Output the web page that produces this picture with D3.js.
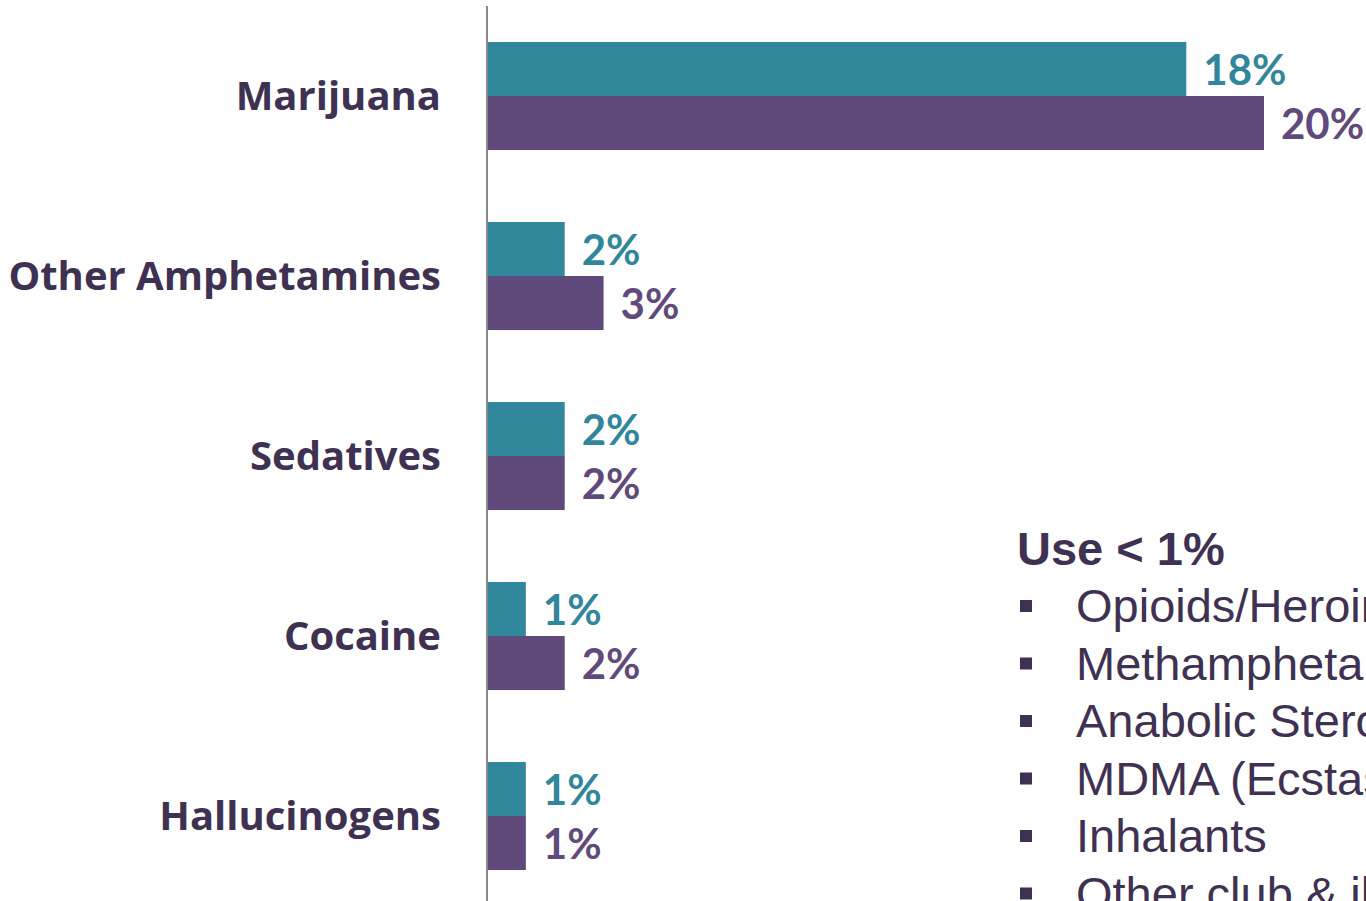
<!DOCTYPE html>
<html>
<head>
<meta charset="utf-8">
<script src="https://cdn.jsdelivr.net/npm/d3@7"></script>
<style>
  body { margin: 0; background: #fff; overflow: hidden; }
  svg { display: block; }
</style>
</head>
<body>
<svg id="chart"></svg>
<script>
const categories = ["Marijuana", "Other Amphetamines", "Sedatives", "Cocaine", "Hallucinogens"];
const seriesNames = ["teal", "purple"];
const tealValues = [18, 2, 2, 1, 1];
const purpleValues = [20, 3, 2, 2, 1];
const lowUseTitle = "Use < 1%";
const lowUseItems = ["Opioids/Heroin", "Methamphetamine", "Anabolic Steroids", "MDMA (Ecstasy)", "Inhalants", "Other club & illicit drugs"];

const width = 1366;
const height = 901;
const colors = { teal: "#31879b", purple: "#604a7b" };
const labelColors = { teal: "#31869c", purple: "#5f4a7b" };

const svg = d3.select("#chart").attr("width", width).attr("height", height);

const x = d3.scaleLinear().domain([0, 20]).range([487, 1264]);
const y = d3.scaleBand().domain(categories).range([6, 906]).paddingInner(0.4).paddingOuter(0.2);
const ySub = d3.scaleBand().domain(seriesNames).range([0, y.bandwidth()]);

const rows = categories.map((c, i) => ({
    name: c,
    values: [
        { key: "teal", value: tealValues[i] },
        { key: "purple", value: purpleValues[i] }
    ]
}));

const group = svg.selectAll(".group")
    .data(rows)
    .enter()
    .append("g")
    .attr("class", "group")
    .attr("transform", d => `translate(0,${y(d.name)})`);

group.selectAll("rect")
    .data(d => d.values)
    .enter()
    .append("rect")
    .attr("x", x(0))
    .attr("y", d => ySub(d.key))
    .attr("width", d => x(d.value) - x(0))
    .attr("height", ySub.bandwidth())
    .attr("fill", d => colors[d.key]);

group.selectAll(".val")
    .data(d => d.values)
    .enter()
    .append("text")
    .attr("class", "val")
    .attr("x", d => x(d.value) + 17)
    .attr("y", d => ySub(d.key) + ySub.bandwidth() / 2)
    .attr("dy", "0.38em")
    .attr("fill", d => labelColors[d.key])
    .style("font-family", "Lato, 'Open Sans', sans-serif")
    .style("font-weight", "bold")
    .style("font-size", "42px")
    .text(d => d.value + "%");

// category labels
group.append("text")
    .attr("x", 441)
    .attr("y", y.bandwidth() / 2)
    .attr("dy", "0.36em")
    .attr("text-anchor", "end")
    .attr("fill", "#3f3151")
    .style("font-family", "'Open Sans', Lato, sans-serif")
    .style("font-weight", "bold")
    .style("font-size", "40px")
    .text(d => d.name);

// axis line
svg.append("line")
    .attr("x1", x(0)).attr("x2", x(0))
    .attr("y1", y.range()[0]).attr("y2", y.range()[1])
    .attr("stroke", "#888")
    .attr("stroke-width", 2);

// low-use note
const note = svg.append("g").attr("transform", "translate(1017,0)");
note.append("text")
    .attr("x", 0)
    .attr("y", 565)
    .attr("fill", "#3f3151")
    .style("font-family", "'Liberation Sans', Arial, sans-serif")
    .style("font-weight", "bold")
    .style("font-size", "47px")
    .text(lowUseTitle);

const item = note.selectAll(".item")
    .data(lowUseItems)
    .enter()
    .append("g")
    .attr("class", "item")
    .attr("transform", (d, i) => `translate(0,${622 + i * 57.5})`);

item.append("rect")
    .attr("x", 3)
    .attr("y", -22)
    .attr("width", 12)
    .attr("height", 12)
    .attr("fill", "#3f3151");

item.append("text")
    .attr("x", 59)
    .attr("y", 0)
    .attr("fill", "#3f3151")
    .style("font-family", "'Liberation Sans', Arial, sans-serif")
    .style("font-size", "47px")
    .text(d => d);
</script>
</body>
</html>
